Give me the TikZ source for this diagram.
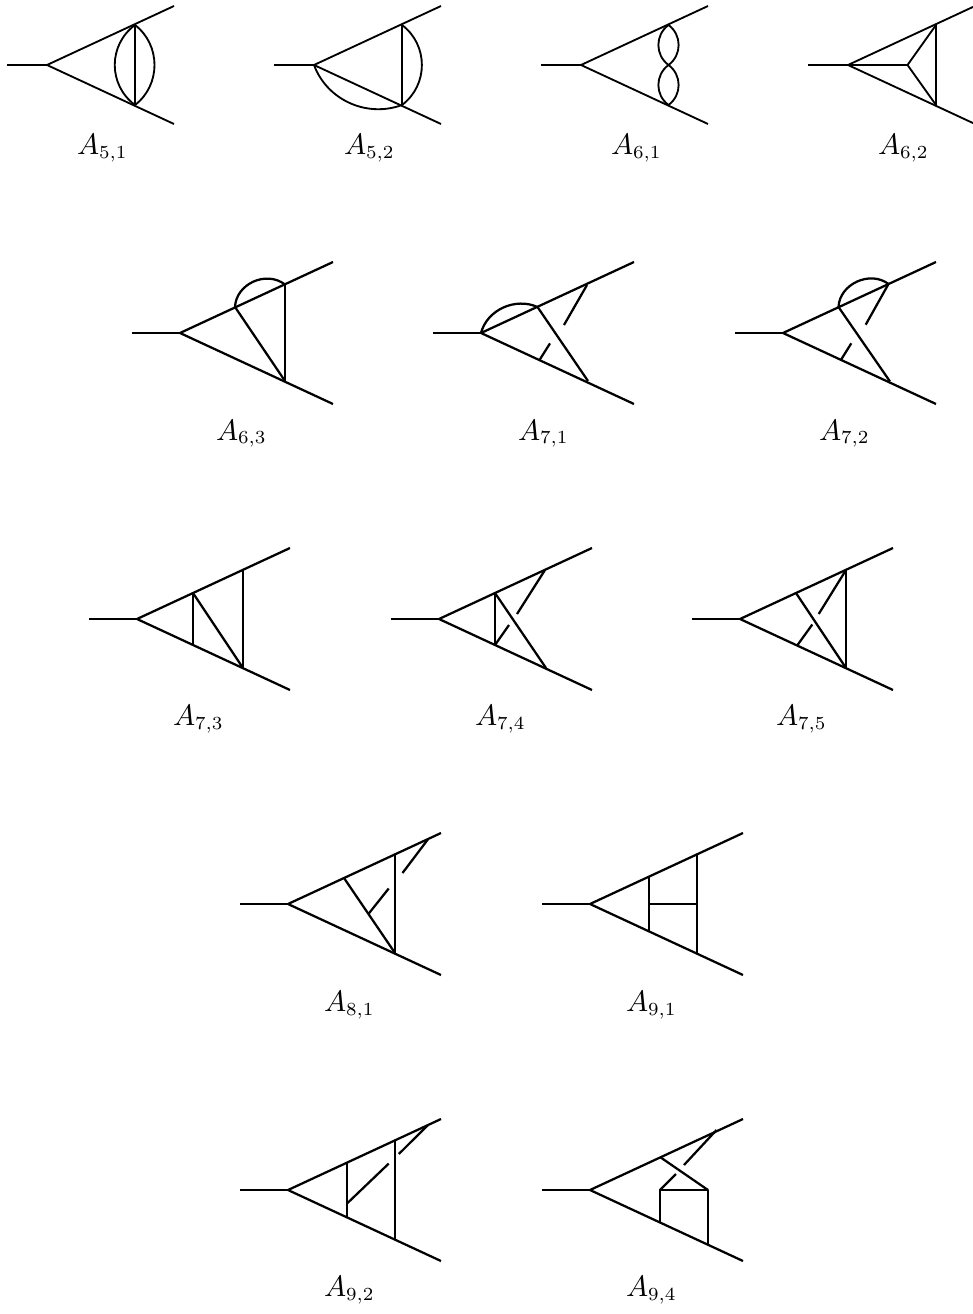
\documentclass[tikz,border=0pt]{standalone}
\tikzset{
  wire/.style={draw=black,line width=2.25bp,line cap=butt,line join=round},
  thinwire/.style={draw=black,line width=1.85bp,line cap=butt,line join=round},
  lbl/.style={anchor=base west,inner sep=0pt,outer sep=0pt,scale=2.65}
}
% id, vertex x, vertex y, incoming length, leg width, leg rise, style
\newcommand{\Legs}[7]{%
  \coordinate (#1in) at (#2-#4,#3);
  \coordinate (#1v) at (#2,#3);
  \coordinate (#1te) at (#2+#5,#3-#6);
  \coordinate (#1be) at (#2+#5,#3+#6);
  \draw[#7] (#1in) -- (#1v);
  \draw[#7] (#1te) -- (#1v) -- (#1be);
}
\newcommand{\BigLegs}[3]{\Legs{#1}{#2}{#3}{48}{153}{71}{wire}}
\newcommand{\Lab}[5]{\node[lbl] (#1lab) at (#2,#3) {$\scalebox{1.12}{$A$}_{#4,#5}$};}
\begin{document}
\begin{tikzpicture}[x=1bp,y=-1bp]
\useasboundingbox (0,0) rectangle (972,1314);
\fill[white] (0,0) rectangle (972,1314);

% ---- row 1
\Legs{a}{47}{65}{40}{127}{59}{thinwire}
\coordinate (at) at (135,25); \coordinate (ab) at (135,105);
\draw[thinwire] (at) -- (ab);
\draw[thinwire] (at) .. controls (161,45) and (161,85) .. (ab);
\draw[thinwire] (at) .. controls (108,45) and (108,85) .. (ab);
\Lab{a}{77}{154.3}{5}{1}

\Legs{b}{314}{65}{40}{127}{59}{thinwire}
\coordinate (bt) at (402,25); \coordinate (bb) at (402,105);
\draw[thinwire] (bt) -- (bb);
\draw[thinwire] (bt) .. controls (428.5,45) and (428.5,85) .. (bb);
\draw[thinwire] (bv) .. controls (327,100) and (366.7,118) .. (bb);
\Lab{b}{344}{154.3}{5}{2}

\Legs{c}{581}{65}{40}{127}{59}{thinwire}
\coordinate (ct) at (668.5,25); \coordinate (cm) at (668.5,65); \coordinate (cb) at (668.5,105);
\draw[thinwire] (ct) .. controls (682,35) and (682,55) .. (cm);
\draw[thinwire] (ct) .. controls (655,35) and (655,55) .. (cm);
\draw[thinwire] (cm) .. controls (682,75) and (682,95) .. (cb);
\draw[thinwire] (cm) .. controls (655,75) and (655,95) .. (cb);
\Lab{c}{611}{154.3}{6}{1}

\Legs{d}{848}{65}{40}{127}{59}{thinwire}
\coordinate (dt) at (936,25); \coordinate (db) at (936,105); \coordinate (dc) at (907.5,65);
\draw[thinwire] (dt) -- (db);
\draw[thinwire] (dv) -- (dc);
\draw[thinwire] (dt) -- (dc) -- (db);
\Lab{d}{878}{154.3}{6}{2}

% ---- row 2
\BigLegs{e}{180}{333}
\coordinate (eu) at (235,307); \coordinate (er) at (285,284.5); \coordinate (eb) at (285,381);
\draw[wire] (eu) -- (eb);
\draw[wire] (er) -- (eb);
\draw[wire] (eu) .. controls (236,284) and (266,270) .. (er);
\Lab{e}{216}{440}{6}{3}

\BigLegs{f}{481}{333}
\coordinate (fu) at (537.5,307); \coordinate (fr) at (587,285); \coordinate (fb) at (588,381);
\coordinate (fs) at (564,325); \coordinate (fd) at (539.5,360); \coordinate (fe) at (550,343.4);
\draw[wire] (fu) -- (fb);
\draw[wire] (fr) -- (fs);
\draw[wire] (fd) -- (fe);
\draw[wire] (fv) .. controls (487,310) and (515,297) .. (fu);
\Lab{f}{518}{440}{7}{1}

\BigLegs{g}{783}{333}
\coordinate (gu) at (838.5,307); \coordinate (gr) at (888.5,284); \coordinate (gb) at (890,381.5);
\coordinate (gs) at (865.7,324.7); \coordinate (gd) at (841.3,359.3); \coordinate (ge) at (851.3,343.3);
\draw[wire] (gu) -- (gb);
\draw[wire] (gr) -- (gs);
\draw[wire] (gd) -- (ge);
\draw[wire] (gu) .. controls (839.5,284) and (870,270) .. (gr);
\Lab{g}{819}{440}{7}{2}

% ---- row 3
\BigLegs{h}{137}{619}
\coordinate (hu) at (193,593); \coordinate (hd) at (193,645); \coordinate (hr) at (243,570); \coordinate (hb) at (243,668);
\draw[wire] (hu) -- (hd);
\draw[wire] (hu) -- (hb);
\draw[wire] (hr) -- (hb);
\Lab{h}{173}{725.7}{7}{3}

\BigLegs{i}{439}{619}
\coordinate (iu) at (495,593); \coordinate (id) at (495,645); \coordinate (ir) at (545,570); \coordinate (ib) at (546,668);
\coordinate (is) at (517,614); \coordinate (ie) at (509,625);
\draw[wire] (iu) -- (id);
\draw[wire] (iu) -- (ib);
\draw[wire] (ir) -- (is);
\draw[wire] (id) -- (ie);
\Lab{i}{475}{725.7}{7}{4}

\BigLegs{j}{740}{619}
\coordinate (ju) at (796,593); \coordinate (jd) at (797.5,645); \coordinate (jr) at (846,570); \coordinate (jb) at (846,668);
\coordinate (js) at (818.7,614); \coordinate (je) at (812.3,624.5);
\draw[wire] (ju) -- (jb);
\draw[wire] (jr) -- (jb);
\draw[wire] (jr) -- (js);
\draw[wire] (jd) -- (je);
\Lab{j}{776}{725.7}{7}{5}

% ---- row 4
\BigLegs{k}{288}{904}
\coordinate (ku) at (344,878); \coordinate (kr) at (395,854.5); \coordinate (kb) at (395,953);
\coordinate (kw) at (368.4,914); \coordinate (ke) at (388.7,888.5); \coordinate (ks) at (428.2,839); \coordinate (kf) at (402.5,873);
\draw[wire] (ku) -- (kb);
\draw[wire] (kr) -- (kb);
\draw[wire] (kw) -- (ke);
\draw[wire] (ks) -- (kf);
\Lab{k}{324}{1011.3}{8}{1}

\BigLegs{l}{590}{904}
\coordinate (lu) at (649,876.5); \coordinate (ld) at (649,932); \coordinate (lr) at (697,854); \coordinate (lb) at (697,954);
\coordinate (lh) at (649,904); \coordinate (lk) at (697,904);
\draw[wire] (lu) -- (ld);
\draw[wire] (lr) -- (lb);
\draw[wire] (lh) -- (lk);
\Lab{l}{626}{1011.3}{9}{1}

% ---- row 5
\BigLegs{m}{288}{1190}
\coordinate (mu) at (347,1163); \coordinate (md) at (347,1217); \coordinate (mr) at (395,1140.5); \coordinate (mb) at (395,1240);
\coordinate (mw) at (347,1203.5); \coordinate (me) at (388.7,1163.6); \coordinate (ms) at (428,1125); \coordinate (mf) at (398.8,1154);
\draw[wire] (mu) -- (md);
\draw[wire] (mr) -- (mb);
\draw[wire] (mw) -- (me);
\draw[wire] (ms) -- (mf);
\Lab{m}{324}{1296.7}{9}{2}

\BigLegs{n}{590}{1190}
\coordinate (nu) at (660,1157); \coordinate (nq) at (708,1190); \coordinate (nl) at (660,1190);
\coordinate (nd) at (660,1223); \coordinate (nb) at (708,1245);
\coordinate (ns) at (716.5,1130); \coordinate (nf) at (684,1165); \coordinate (ne) at (676,1174);
\draw[wire] (nu) -- (nq);
\draw[wire] (nd) -- (nl) -- (nq) -- (nb);
\draw[wire] (ns) -- (nf);
\draw[wire] (nl) -- (ne);
\Lab{n}{626}{1296.7}{9}{4}
\end{tikzpicture}
\end{document}
